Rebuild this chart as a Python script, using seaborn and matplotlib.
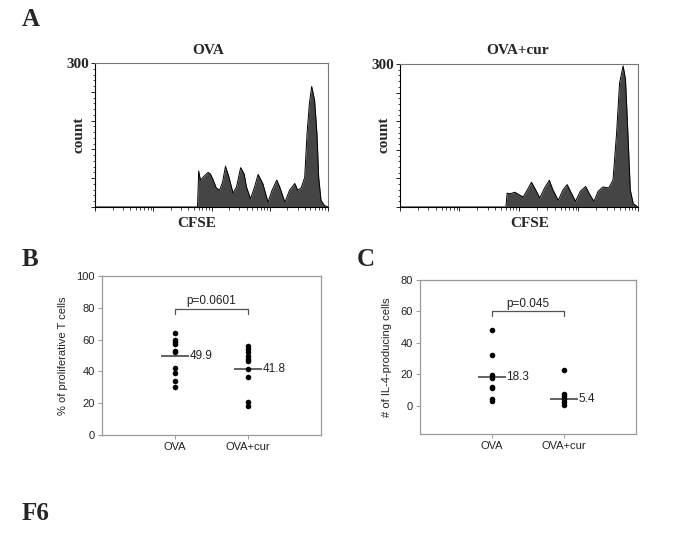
import numpy as np
import pandas as pd
import matplotlib
matplotlib.use("Agg")
import matplotlib.pyplot as plt
import seaborn as sns
from matplotlib.ticker import LogLocator, MultipleLocator, NullFormatter

# CFSE histograms (log10 intensity, count)
ova_log = [0.0, 1.76, 1.78, 1.81, 1.87, 1.94, 1.98, 2.03, 2.08, 2.14, 2.19, 2.24, 2.30,
           2.37, 2.43, 2.50, 2.56, 2.60, 2.67, 2.74, 2.80, 2.88, 2.97, 3.04, 3.12, 3.17,
           3.26, 3.34, 3.43, 3.48, 3.54, 3.60, 3.64, 3.68, 3.72, 3.77, 3.81, 3.84, 3.88,
           3.94, 4.0]
ova_count = [0, 0, 75, 56, 64, 72, 69, 56, 40, 35, 52, 85, 62,
             29, 42, 82, 69, 42, 17, 42, 68, 49, 10, 35, 56, 42,
             10, 35, 49, 35, 40, 62, 153, 215, 251, 222, 153, 62, 14,
             3, 0]
cur_log = [0.0, 1.78, 1.80, 1.85, 1.93, 2.00, 2.07, 2.14, 2.21, 2.28, 2.35, 2.43, 2.51,
           2.57, 2.66, 2.74, 2.81, 2.88, 2.95, 3.03, 3.12, 3.19, 3.26, 3.33, 3.41, 3.51,
           3.58, 3.64, 3.69, 3.75, 3.79, 3.83, 3.87, 3.92, 4.0]
cur_count = [0, 0, 29, 28, 31, 26, 21, 36, 52, 36, 19, 40, 56,
             36, 14, 36, 47, 29, 12, 33, 43, 26, 12, 33, 42, 40,
             57, 155, 260, 296, 267, 155, 36, 7, 0]

groups = ["OVA", "OVA+cur"]

# panel B: % of proliferative T cells
prolif_ova = [64, 60, 58.5, 57, 53, 52, 42, 39, 34, 30]
prolif_cur = [56, 54, 52, 49.5, 48, 46.5, 41.7, 36.7, 21, 18]
prolif_mean = [49.9, 41.8]
prolif_p = "p=0.0601"

# panel C: # of IL-4-producing cells
il4_ova = [48, 32, 19.4, 17.9, 11.8, 11.2, 4.2, 3]
il4_cur = [23, 7.4, 5.9, 4.2, 2.5, 0.4]
il4_mean = [18.3, 5.4]
il4_shown = [18.3, 4.3]
il4_p = "p=0.045"

sns.set_style("white")
plt.rcParams["font.family"] = ["Liberation Sans", "DejaVu Sans"]

fig = plt.figure(figsize=(6.85, 5.59), dpi=100)
serif = dict(family="Liberation Serif", weight="bold")


def flow_hist(rect, logs, counts, title, title_x, cfse_x):
    ax = fig.add_axes(rect)
    x = 10 ** np.array(logs)
    ax.fill_between(x, counts, color="#454545", lw=0)
    sns.lineplot(x=x, y=counts, color="black", lw=0.7, sort=False,
                 estimator=None, ax=ax)
    ax.set_xscale("log")
    ax.set_xlim(1, 1e4)
    ax.set_ylim(0, 300)
    ax.xaxis.set_major_locator(LogLocator(base=10, numticks=10))
    ax.xaxis.set_minor_locator(LogLocator(base=10, subs=np.arange(2, 10), numticks=20))
    ax.xaxis.set_major_formatter(NullFormatter())
    ax.xaxis.set_minor_formatter(NullFormatter())
    ax.yaxis.set_minor_locator(MultipleLocator(12))
    ax.set_yticks(np.arange(0, 301, 60))
    ax.set_yticklabels(["", "", "", "", "", "300"], fontsize=11, **serif)
    ax.tick_params(axis="both", which="major", length=3, width=0.6, color="black", pad=1)
    ax.tick_params(axis="both", which="minor", length=1.8, width=0.5, color="black")
    ax.tick_params(axis="x", which="both", bottom=True)
    ax.tick_params(axis="y", which="both", left=True)
    ax.set_xlabel("")
    ax.set_ylabel("")
    for s in ["left", "bottom"]:
        ax.spines[s].set_color("black")
        ax.spines[s].set_linewidth(0.8)
    for s in ["top", "right"]:
        ax.spines[s].set_color("#777777")
        ax.spines[s].set_linewidth(0.8)
    fig.text(title_x / 685, 1 - 50 / 559, title, ha="center", va="center", fontsize=11, **serif)
    fig.text(cfse_x / 685, 1 - 223 / 559, "CFSE", ha="center", va="center", fontsize=11, **serif)
    fig.text((rect[0] * 685 - 16) / 685, 1 - 135 / 559, "count", ha="center", va="center",
             rotation=90, fontsize=11, **serif)
    return ax


flow_hist([95 / 685, 1 - 207 / 559, 233 / 685, 144 / 559], ova_log, ova_count,
          "OVA", 208, 197)
flow_hist([400 / 685, 1 - 207 / 559, 238 / 685, 143 / 559], cur_log, cur_count,
          "OVA+cur", 518, 530)


def dot_panel(rect, vals_a, vals_b, means, shown, ylim, yticks, ylabel, ptext, brk):
    ax = fig.add_axes(rect)
    df = pd.DataFrame({
        "group": [groups[0]] * len(vals_a) + [groups[1]] * len(vals_b),
        "value": list(vals_a) + list(vals_b),
    })
    sns.stripplot(data=df, x="group", y="value", order=groups, jitter=False,
                  color="black", size=4, linewidth=0, ax=ax)
    for i, (m, s) in enumerate(zip(means, shown)):
        ax.hlines(s, i - 0.19, i + 0.19, color="#555555", lw=1.3, zorder=1)
        ax.text(i + 0.2, s, f"{m}", ha="left", va="center", fontsize=8.5, color="#222222")
    ax.plot([0, 0, 1, 1], [brk, brk + 3, brk + 3, brk], color="#555555", lw=0.9)
    ax.text(0.5, brk + 4.2, ptext, ha="center", va="bottom", fontsize=8.5, color="#222222")
    ax.set_xlim(-1, 2)
    ax.set_ylim(*ylim)
    ax.set_yticks(yticks)
    ax.set_yticklabels([str(t) for t in yticks], fontsize=8, color="#222222")
    ax.set_xticks([0, 1])
    ax.set_xticklabels(groups, fontsize=8, color="#222222")
    ax.set_xlabel("")
    ax.set_ylabel(ylabel, fontsize=8, labelpad=6, color="#222222")
    ax.tick_params(axis="both", length=3, width=0.6, color="#888888", pad=2,
                   bottom=True, left=True)
    for s in ax.spines.values():
        s.set_color("#999999")
        s.set_linewidth(0.9)
    return ax


dot_panel([102 / 685, 1 - 435 / 559, 219 / 685, 159 / 559], prolif_ova, prolif_cur,
          prolif_mean, prolif_mean, (0, 100), [0, 20, 40, 60, 80, 100],
          "% of proliferative T cells", prolif_p, 76)
dot_panel([420 / 685, 1 - 434 / 559, 216 / 685, 154 / 559], il4_ova, il4_cur,
          il4_mean, il4_shown, (-18, 80), [0, 20, 40, 60, 80],
          "# of IL-4-producing cells", il4_p, 57)

# panel letters
fig.text(22 / 685, 1 - 19 / 559, "A", ha="left", va="center", fontsize=18, **serif)
fig.text(22 / 685, 1 - 259 / 559, "B", ha="left", va="center", fontsize=18, **serif)
fig.text(357 / 685, 1 - 259 / 559, "C", ha="left", va="center", fontsize=18, **serif)
fig.text(22 / 685, 1 - 514 / 559, "F6", ha="left", va="center", fontsize=18, **serif)

fig.savefig("out.png", dpi=100)
